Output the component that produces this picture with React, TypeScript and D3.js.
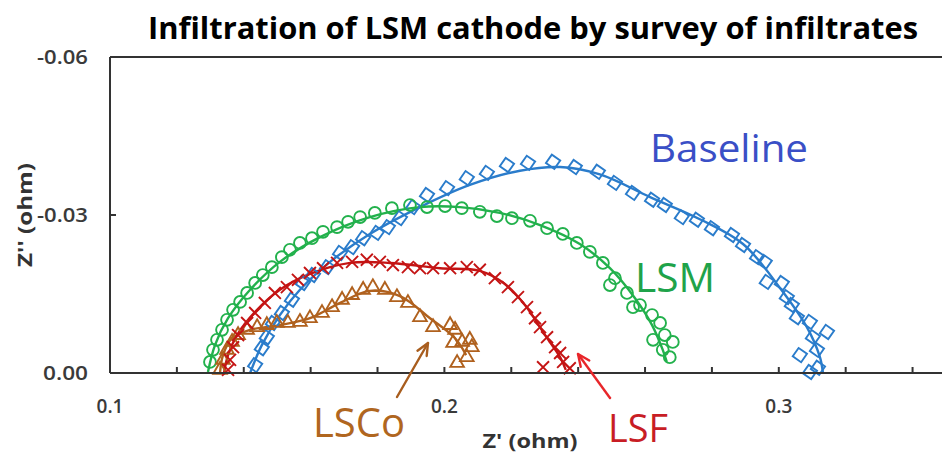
import * as d3 from 'd3';

// Z' (ohm), Z'' (ohm) pairs
const baselinePts: [number, number][] = [
  [0.1434, -0.0015], [0.1454, -0.0047], [0.1469, -0.0068], [0.1487, -0.0095], [0.1514, -0.0114],
  [0.1544, -0.0139], [0.1577, -0.0171], [0.1607, -0.0186], [0.1649, -0.0201], [0.1688, -0.0228],
  [0.1724, -0.0239], [0.1757, -0.0256], [0.1798, -0.0266], [0.1831, -0.0277], [0.1867, -0.0294],
  [0.1906, -0.0315], [0.1948, -0.0338], [0.2008, -0.0351], [0.2067, -0.037], [0.2127, -0.038],
  [0.2187, -0.0395], [0.225, -0.0399], [0.2325, -0.0401], [0.239, -0.0391], [0.2459, -0.0382],
  [0.251, -0.0361], [0.2564, -0.0342], [0.2621, -0.0329], [0.2659, -0.0319], [0.271, -0.0296],
  [0.2755, -0.0291], [0.28, -0.0275], [0.286, -0.0262], [0.2893, -0.0243], [0.2935, -0.022],
  [0.2958, -0.0211], [0.2964, -0.0173], [0.3009, -0.0171], [0.3024, -0.0144], [0.3039, -0.0129],
  [0.3054, -0.0106], [0.3093, -0.0097], [0.3144, -0.0078], [0.3102, -0.0068], [0.3063, -0.0034],
  [0.3114, -0.0044], [0.3093, -0.0002], [0.3117, -0.001],
];
const baselineFit: [number, number][] = [
  [0.1419, 0], [0.1454, -0.0053], [0.1508, -0.011], [0.1568, -0.0158], [0.1658, -0.0211],
  [0.1777, -0.0264], [0.1927, -0.0315], [0.2076, -0.0357], [0.2226, -0.0384], [0.2346, -0.0391],
  [0.2465, -0.0377], [0.2615, -0.0334], [0.2764, -0.0292], [0.2893, -0.0245], [0.3003, -0.0162],
  [0.3084, -0.0087], [0.3123, -0.003], [0.3132, 0],
];

const lsmPts: [number, number][] = [
  [0.1299, -0.0021], [0.1308, -0.0044], [0.132, -0.0063], [0.1335, -0.0082], [0.135, -0.0101],
  [0.1368, -0.012], [0.1389, -0.0135], [0.141, -0.0152], [0.1434, -0.0171], [0.1457, -0.0186],
  [0.1484, -0.0201], [0.1514, -0.022], [0.1538, -0.0234], [0.1568, -0.0247], [0.1604, -0.0256],
  [0.1637, -0.0268], [0.1679, -0.0277], [0.1712, -0.0287], [0.1748, -0.0296], [0.1792, -0.0304],
  [0.1843, -0.0313], [0.1897, -0.0319], [0.1948, -0.0315], [0.2002, -0.0317], [0.2052, -0.0313],
  [0.2106, -0.0306], [0.2157, -0.0298], [0.2202, -0.0294], [0.2256, -0.0289], [0.2307, -0.0275],
  [0.2354, -0.0264], [0.2396, -0.0247], [0.2435, -0.023], [0.2474, -0.0209], [0.251, -0.018],
  [0.2495, -0.0167], [0.2546, -0.0152], [0.2564, -0.0125], [0.2585, -0.0129], [0.2621, -0.011],
  [0.2645, -0.0095], [0.2659, -0.0072], [0.2683, -0.0059], [0.2624, -0.0063], [0.2653, -0.0044],
  [0.2674, -0.003],
];
const lsmFit: [number, number][] = [
  [0.1293, -0.0002], [0.1314, -0.0053], [0.1353, -0.0104], [0.1419, -0.0158], [0.1508, -0.0211],
  [0.1628, -0.0258], [0.1777, -0.0296], [0.1927, -0.0315], [0.2047, -0.0315], [0.2166, -0.0304],
  [0.2286, -0.0281], [0.2405, -0.0245], [0.2495, -0.0199], [0.257, -0.0142], [0.2621, -0.0091],
  [0.2653, -0.0044], [0.2665, -0.0021],
];

const lsfPts: [number, number][] = [
  [0.1353, -0.0006], [0.1359, -0.0025], [0.1368, -0.0049], [0.1383, -0.0072], [0.141, -0.0095],
  [0.1434, -0.0114], [0.1463, -0.0133], [0.1493, -0.0152], [0.1529, -0.0163], [0.1562, -0.0177],
  [0.1598, -0.019], [0.1637, -0.0199], [0.1679, -0.0209], [0.1724, -0.0211], [0.1768, -0.0215],
  [0.1807, -0.0211], [0.1846, -0.0205], [0.1891, -0.0201], [0.1927, -0.0199], [0.1966, -0.0199],
  [0.2017, -0.0199], [0.2067, -0.0201], [0.2106, -0.0196], [0.2151, -0.018], [0.219, -0.0163],
  [0.222, -0.0144], [0.2247, -0.0125], [0.2271, -0.0104], [0.2286, -0.0087], [0.2307, -0.0068],
  [0.2331, -0.0049], [0.2346, -0.0038], [0.2355, -0.0021], [0.2295, -0.0011], [0.2375, -0.0009],
];
const lsfFit: [number, number][] = [
  [0.1341, 0], [0.1353, -0.0034], [0.138, -0.0072], [0.1434, -0.0116], [0.1508, -0.0158],
  [0.1598, -0.0188], [0.1718, -0.0209], [0.1837, -0.0209], [0.1987, -0.0199], [0.2106, -0.0194],
  [0.2181, -0.0169], [0.2241, -0.0129], [0.2301, -0.0072], [0.2346, -0.003], [0.2363, -0.0006],
];

const lscoPts: [number, number][] = [
  [0.1329, -0.0006], [0.1338, -0.0025], [0.135, -0.0044], [0.1365, -0.0059], [0.1383, -0.0072],
  [0.141, -0.0082], [0.144, -0.0087], [0.1469, -0.0091], [0.1499, -0.0095], [0.1532, -0.0095],
  [0.1568, -0.0097], [0.1598, -0.0104], [0.1634, -0.0114], [0.1664, -0.0125], [0.1694, -0.0139],
  [0.1724, -0.0148], [0.1757, -0.0158], [0.1786, -0.0163], [0.1822, -0.0158], [0.1858, -0.0144],
  [0.1891, -0.0133], [0.1927, -0.0106], [0.1966, -0.0087], [0.2017, -0.0091], [0.2032, -0.0082],
  [0.2053, -0.0059], [0.2076, -0.0063], [0.2026, -0.0057], [0.2082, -0.0049], [0.2067, -0.003],
  [0.2038, -0.0019],
];
const lscoFit: [number, number][] = [
  [0.1329, 0], [0.1338, -0.0034], [0.1365, -0.0066], [0.1419, -0.0082], [0.1508, -0.0091],
  [0.1598, -0.0104], [0.1688, -0.0133], [0.1777, -0.0156], [0.1867, -0.0146], [0.1957, -0.0104],
  [0.2032, -0.0066], [0.2065, -0.0034],
];

const xMajorTicks = [0.1, 0.2, 0.3];
const yTicks = [-0.06, -0.03, 0];

const W = 942;
const H = 454;
const x = d3.scaleLinear().domain([0.1, 0.35]).range([110, 946]);
const y = d3.scaleLinear().domain([0, -0.06]).range([373, 57]);

const line = d3
  .line<[number, number]>()
  .x((d) => x(d[0]))
  .y((d) => y(d[1]))
  .curve(d3.curveCatmullRom.alpha(0.5));

const series = [
  { name: 'Baseline', pts: baselinePts, fit: baselineFit, color: '#2a7ccb', shape: d3.symbolSquare, size: 105, rot: 35 },
  { name: 'LSM', pts: lsmPts, fit: lsmFit, color: '#22b14c', shape: d3.symbolCircle, size: 110, rot: 0 },
  { name: 'LSCo', pts: lscoPts, fit: lscoFit, color: '#b0611e', shape: d3.symbolTriangle, size: 80, rot: 0 },
  { name: 'LSF', pts: lsfPts, fit: lsfFit, color: '#c41414', shape: d3.symbolX, size: 95, rot: 0 },
];

const font = "'Open Sans', 'DejaVu Sans', sans-serif";

function Arrow({ x1, y1, x2, y2, color }: { x1: number; y1: number; x2: number; y2: number; color: string }) {
  const a = Math.atan2(y2 - y1, x2 - x1);
  const len = 13;
  const spread = 0.42;
  const p1 = [x2 - len * Math.cos(a - spread), y2 - len * Math.sin(a - spread)];
  const p2 = [x2 - len * Math.cos(a + spread), y2 - len * Math.sin(a + spread)];
  return (
    <g stroke={color} strokeWidth={2.4} fill="none" strokeLinecap="round" strokeLinejoin="round">
      <line x1={x1} y1={y1} x2={x2} y2={y2} />
      <polyline points={`${p1[0]},${p1[1]} ${x2},${y2} ${p2[0]},${p2[1]}`} />
    </g>
  );
}

export default function App() {
  const xMinor = d3.range(0, 13).map((i) => 0.1 + i * 0.02);
  return (
    <svg width={W} height={H} style={{ position: 'absolute', left: 0, top: 0, background: '#fff' }}>
      <text x={533} y={39} textAnchor="middle" fontFamily={font} fontWeight="bold" fontSize={30}
        textLength={770} lengthAdjust="spacingAndGlyphs" fill="#000">
        Infiltration of LSM cathode by survey of infiltrates
      </text>

      {/* fit lines */}
      {series.map((s) => (
        <path key={s.name + '-fit'} d={line(s.fit) || ''} fill="none" stroke={s.color} strokeWidth={2.4} />
      ))}
      {/* markers */}
      {series.map((s) => (
        <g key={s.name} fill="none" stroke={s.color} strokeWidth={1.9}>
          {s.pts.map((p, i) => (
            <path key={i} d={d3.symbol().type(s.shape).size(s.size)() || ''}
              transform={`translate(${x(p[0])},${y(p[1])}) rotate(${s.rot})`} />
          ))}
        </g>
      ))}

      {/* frame and axes */}
      <g stroke="#333" strokeWidth={2} fill="none">
        <line x1={x(0.1)} y1={y(-0.06)} x2={W} y2={y(-0.06)} />
        <line x1={x(0.1)} y1={y(0)} x2={W} y2={y(0)} />
        <line x1={x(0.1)} y1={y(0)} x2={x(0.1)} y2={y(-0.06)} />
        {xMinor.map((v) => (
          <line key={v} x1={x(v)} x2={x(v)} y1={y(0)} y2={y(0) - 6} />
        ))}
        {yTicks.map((v) => (
          <line key={v} x1={x(0.1)} x2={x(0.1) + 6} y1={y(v)} y2={y(v)} />
        ))}
      </g>
      <g fontFamily={font} fontWeight={600} fontSize={19} fill="#3a3a3a">
        {yTicks.map((v) => (
          <text key={v} x={88} y={y(v) + 7} textAnchor="end" textLength={v === 0 ? 45 : 51}
            lengthAdjust="spacingAndGlyphs">{v === 0 ? '0.00' : v.toFixed(2)}</text>
        ))}
        {xMajorTicks.map((v) => (
          <text key={v} x={x(v)} y={413} textAnchor="middle">{v.toFixed(1)}</text>
        ))}
      </g>
      <text x={530} y={448} textAnchor="middle" fontFamily={font} fontWeight="bold" fontSize={19} fill="#333"
        textLength={95} lengthAdjust="spacingAndGlyphs">
        Z' (ohm)
      </text>
      <text transform={`translate(32,215) rotate(-90)`} textAnchor="middle" fontFamily={font} fontWeight="bold"
        fontSize={19} fill="#333" textLength={104} lengthAdjust="spacingAndGlyphs">
        Z'' (ohm)
      </text>

      {/* series labels */}
      <text x={650} y={162} fontFamily={font} fontSize={38} fill="#3a4fc6" textLength={158}
        lengthAdjust="spacingAndGlyphs">Baseline</text>
      <text x={635} y={292} fontFamily={font} fontSize={40} fill="#1fa34a" textLength={80}
        lengthAdjust="spacingAndGlyphs">LSM</text>
      <text x={313} y={437} fontFamily={font} fontSize={40} fill="#b0661f" textLength={92}
        lengthAdjust="spacingAndGlyphs">LSCo</text>
      <text x={608} y={442} fontFamily={font} fontSize={38} fill="#c81d25" textLength={60}
        lengthAdjust="spacingAndGlyphs">LSF</text>

      <Arrow x1={397} y1={397} x2={428} y2={343} color="#a85d1e" />
      <Arrow x1={610} y1={398} x2={578} y2={354} color="#e8262a" />
    </svg>
  );
}
